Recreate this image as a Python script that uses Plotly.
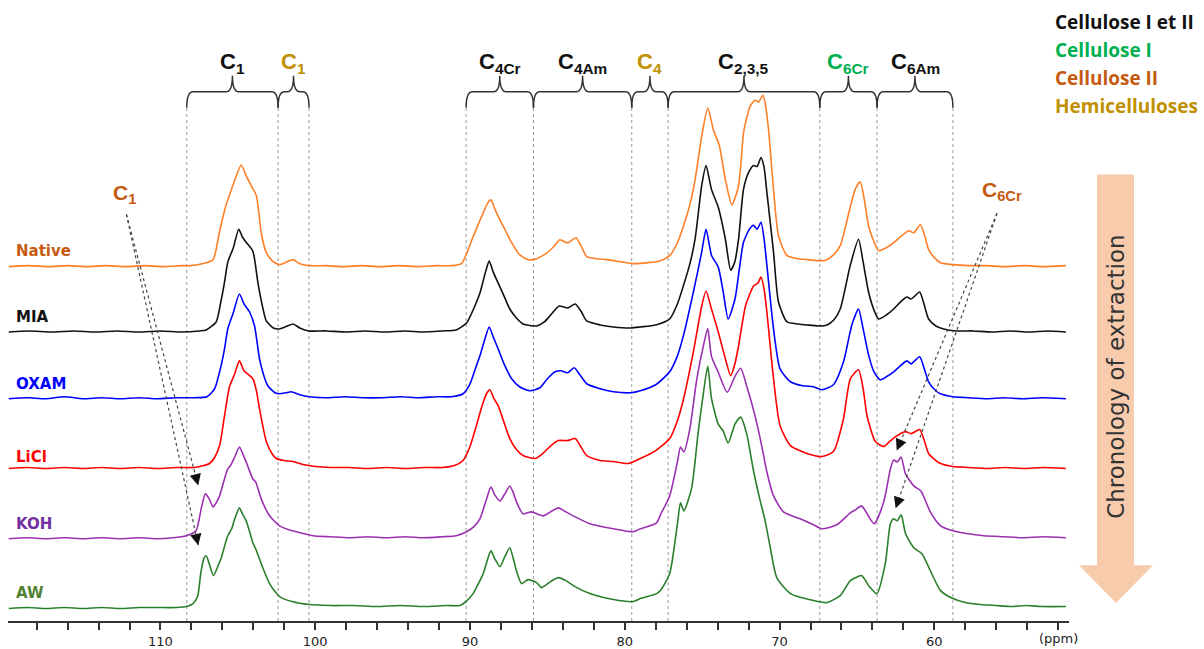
import math
import plotly.graph_objects as go

# ---------------- data (ppm, intensity) ----------------
SAMPLES = ["Native", "MIA", "OXAM", "LiCl", "KOH", "AW"]
OFFSETS = [355.5, 290.0, 223.0, 153.0, 82.5, 12.5]
LINE_COLORS = ["#FF7F27", "#111111", "#0000FF", "#FF0000", "#9B30B0", "#2A7F2A"]
LABEL_COLORS = ["#C55A11", "#111111", "#0000FF", "#FF0000", "#7030A0", "#548235"]
LABEL_Y = [371, 305, 238, 165, 97, 28]

NATIVE = [(119.8,0),(118.5,1),(117.2,0),(116,1),(114.8,0),(113.5,1),(112.2,0),(111,1),(109.8,0),(108.6,1),(108.1,1),
          (107.3,3),(106.6,7),(106.2,34),(105.76,62),(105.6,69),(105.27,84),(104.78,102),(104.46,91),(104.13,81),(103.8,71),
          (103.49,34),(103.16,14),(102.73,5),(102.3,2),(101.8,5),(101.44,7),(101.0,3),(100.36,1),(99.3,1),(98.2,0),(97,1),
          (95.8,0),(94.6,1),(93.3,0),(92.2,1),(91.2,1),(90.55,3),(90.2,14),(89.8,30),(89.4,45),(89.15,54),(88.85,64),(88.65,67),
          (88.4,58),(88.07,47),(87.7,36),(87.31,24),(86.8,12),(86.24,7),(85.7,8),(85.1,13),(84.6,20),(84.2,27),(83.9,25),
          (83.65,24),(83.15,29),(82.8,20),(82.46,10),(81.8,8),(81.17,7),(80.3,5),(79.45,3),(78.5,4),(77.7,6),(77.1,11),
          (76.6,24),(76.2,41),(75.8,62),(75.46,87),(75.03,131),(74.64,159),(74.27,137),(73.9,122),(73.5,87),(73.08,62),
          (72.65,81),(72.33,134),(72.11,150),(71.9,161),(71.58,167),(71.36,165),(71.08,172),(70.93,164),(70.71,137),
          (70.39,77),(70.07,31),(69.52,11),(68.8,8),(68.23,7),(67.5,6),(66.94,7),(66.5,12),(66.08,21),(65.43,60),(65.1,78),
          (64.79,85),(64.5,65),(64.25,41),(63.9,25),(63.6,16),(63.1,19),(62.63,24),(62.1,31),(61.66,36),(61.33,34),(60.9,42),
          (60.6,30),(60.37,17),(60.0,9),(59.6,4),(58.8,2),(57.8,1),(56.6,1),(55.4,0),(54.2,1),(53,0),(51.5,1)]

MIA = [(119.8,0),(118.5,1),(117,0),(115.6,1),(114.2,0),(112.8,1),(111.4,0),(110,1),(108.6,0),(107.5,1),(107.04,2),
       (106.4,10),(106.1,30),(105.86,50),(105.65,70),(105.3,84),(104.94,103),(104.7,95),(104.46,90),(104.03,81),(103.7,49),
       (103.4,25),(103.16,11),(102.7,4),(102.3,3),(101.8,6),(101.44,8),(101.0,4),(100.4,1),(99.3,1),(98,0),(96.8,1),(95.5,0),
       (94.2,1),(93,0),(91.8,1),(90.9,2),(90.22,9),(89.8,22),(89.36,39),(89.0,60),(88.76,71),(88.5,60),(88.18,49),(87.8,36),
       (87.43,23),(87.0,14),(86.57,8),(85.7,6),(85.2,10),(84.84,16),(84.24,26),(83.7,24),(83.2,28),(82.8,20),(82.46,11),
       (81.6,7),(80.74,5),(79.6,4),(79.0,5),(78.0,7),(77.1,13),(76.6,28),(76.2,47),(75.8,68),(75.46,93),(75.03,147),
       (74.75,167),(74.4,143),(73.96,125),(73.5,93),(73.16,62),(72.9,70),(72.65,93),(72.33,143),(72.0,160),(71.68,167),
       (71.45,166),(71.2,175),(71.0,165),(70.82,140),(70.39,80),(70.07,30),(69.52,10),(68.8,8),(68.23,7),(67.5,6),(66.94,7),
       (66.5,12),(66.08,23),(65.43,67),(64.9,93),(64.6,70),(64.25,40),(63.9,22),(63.6,13),(63.1,17),(62.63,23),(62.2,30),
       (61.77,35),(61.5,33),(60.95,40),(60.65,27),(60.37,13),(59.9,6),(59.4,3),(58.6,1),(57.5,1),(56.3,0),(55.1,1),(53.9,0),
       (52.7,1),(51.5,0)]

OXAM = [(119.8,0),(118.6,1),(117.4,0),(116.2,2),(115,0),(113.8,1),(112.6,0),(111.4,1),(110.2,0),(109,1),(107.8,1),
        (107.0,2),(106.5,10),(106.1,32),(105.86,50),(105.65,70),(105.3,86),(104.9,105),(104.6,95),(104.24,87),(103.92,73),
        (103.6,40),(103.3,22),(103.06,13),(102.6,6),(102.3,5),(101.9,6),(101.55,7),(101.0,4),(100.36,2),(99.3,1),(98.1,2),
        (96.9,1),(95.7,1),(94.5,2),(93.3,1),(92.1,2),(91.2,2),(90.45,5),(90.0,15),(89.7,28),(89.36,43),(89.0,62),(88.76,72),
        (88.5,62),(88.18,50),(87.8,35),(87.31,20),(86.8,12),(86.13,8),(85.48,11),(85.0,20),(84.5,27),(84.1,28),(83.7,26),
        (83.27,31),(82.9,24),(82.46,15),(81.6,10),(80.74,7),(79.6,6),(79.0,8),(78.0,14),(77.1,27),(76.6,43),(76.2,64),
        (75.57,107),(75.03,147),(74.75,170),(74.4,144),(73.96,132),(73.64,107),(73.32,80),(72.88,100),(72.6,130),(72.33,157),
        (71.95,170),(71.68,174),(71.45,170),(71.2,177),(71.0,160),(70.82,134),(70.39,70),(69.97,30),(69.3,17),(68.5,13),
        (67.81,12),(67.27,9),(66.52,14),(65.87,37),(65.33,74),(64.9,90),(64.6,70),(64.25,44),(63.9,27),(63.5,19),(63.1,22),
        (62.63,27),(62.2,33),(61.77,38),(61.5,35),(60.95,42),(60.65,30),(60.37,17),(59.9,8),(59.6,5),(58.8,2),(57.8,1),
        (56.6,0),(55.5,1),(54.3,0),(53.1,1),(51.5,0)]

LICL = [(119.8,0),(118.6,1),(117.4,0),(116.2,1),(115,0),(113.8,1),(112.6,0),(111.4,1),(110.2,0),(109,1),(107.8,1),
        (107.2,3),(106.83,5),(106.5,11),(106.18,23),(105.86,53),(105.54,82),(105.2,95),(104.9,108),(104.6,98),(104.03,90),
        (103.8,78),(103.6,60),(103.16,27),(102.8,15),(102.52,10),(102.0,8),(101.44,7),(100.8,4),(100.0,2),(99,1),(97.8,1),
        (96.6,0),(95.4,1),(94.2,0),(93,1),(91.8,1),(91.0,3),(90.45,8),(90.0,22),(89.59,43),(89.2,64),(88.9,76),(88.72,79),
        (88.45,70),(88.18,63),(87.8,46),(87.43,30),(87.0,19),(86.57,13),(85.81,10),(85.3,15),(84.84,22),(84.3,28),(83.7,28),
        (83.2,30),(82.85,22),(82.46,13),(81.6,8),(80.74,7),(79.8,5),(79.0,10),(78.0,18),(77.1,30),(76.6,48),(76.2,70),
        (75.57,117),(75.03,163),(74.75,178),(74.4,160),(73.96,137),(73.5,110),(73.16,93),(72.9,104),(72.65,123),(72.2,163),
        (71.68,183),(71.4,186),(71.2,192),(71.0,180),(70.82,157),(70.39,90),(69.97,43),(69.3,23),(68.23,15),(67.27,12),
        (66.52,17),(65.87,50),(65.43,90),(64.9,99),(64.6,80),(64.35,53),(63.81,27),(63.27,22),(62.9,27),(62.5,32),(61.86,37),
        (61.5,35),(60.95,39),(60.65,28),(60.37,15),(59.9,8),(59.6,5),(58.8,2),(57.8,1),(56.6,0),(55.4,1),(54.2,0),(53,1),
        (51.5,0)]

KOH = [(119.8,0),(118.6,1),(117.4,0),(116.2,1),(115,0),(113.8,1),(112.6,0),(111.4,1),(110.2,0),(109.2,1),(108.34,3),
       (107.7,8),(107.37,30),(107.1,45),(106.85,40),(106.6,32),(106.4,36),(106.18,43),(105.9,58),(105.65,70),(105.45,74),
       (105.2,82),(104.9,92),(104.7,86),(104.46,77),(104.03,60),(103.85,57),(103.49,40),(102.95,23),(102.3,13),(101.7,9),
       (101.23,7),(100.15,3),(99,2),(97.8,1),(96.6,2),(95.4,1),(94.2,2),(93,1),(91.8,2),(90.9,3),(90.22,7),(89.7,13),
       (89.36,20),(88.93,40),(88.65,52),(88.4,44),(88.07,38),(87.75,45),(87.43,53),(87.2,46),(87.0,37),(86.57,25),(86.03,27),
       (85.28,23),(84.8,27),(84.3,31),(83.8,27),(83.33,23),(82.25,15),(80.74,10),(79.45,7),(79.0,10),(77.94,16),(77.7,24),
       (77.1,43),(76.6,77),(76.4,92),(76.18,87),(75.8,110),(75.35,160),(74.93,193),(74.64,211),(74.4,183),(73.96,167),
       (73.38,147),(72.88,163),(72.51,171),(72.12,153),(71.58,123),(71.15,93),(70.82,67),(70.39,43),(69.75,27),(68.67,20),
       (67.81,14),(67.27,10),(66.3,14),(65.43,26),(65.1,29),(64.7,33),(63.89,15),(63.27,37),(62.84,70),(62.63,79),(62.4,77),
       (62.15,82),(61.86,65),(61.33,53),(60.87,48),(60.26,27),(59.6,13),(58.54,7),(56.8,3),(55.5,2),(54.3,1),(53,2),(51.5,1)]

AW = [(119.8,0),(118.6,1),(117.4,0),(116.2,1),(115,0),(113.8,1),(112.6,0),(111.4,1),(110.2,1),(109,1),(108.3,2),
      (107.9,5),(107.6,12),(107.4,35),(107.2,50),(107.04,53),(106.85,45),(106.57,33),(106.3,42),(106.07,51),(105.85,63),
      (105.65,73),(105.4,80),(105.2,90),(104.9,101),(104.7,95),(104.46,88),(104.2,75),(104.03,66),(103.8,58),(103.49,45),
      (102.95,25),(102.6,17),(102.3,12),(101.5,7),(100.4,4),(99,3),(97.5,3),(96,2),(94.5,3),(93,2),(91.5,3),(90.66,3),
      (90.2,8),(89.8,15),(89.15,35),(88.85,50),(88.65,58),(88.4,50),(88.07,42),(87.75,52),(87.43,61),(87.2,50),(87.0,38),
      (86.67,25),(86.24,29),(85.7,26),(85.38,21),(84.8,27),(84.3,31),(83.8,28),(83.33,23),(82.25,15),(80.74,9),(79.45,7),
      (79.0,10),(77.94,15),(77.7,18),(77.1,35),(76.6,85),(76.4,106),(76.18,98),(75.68,121),(75.25,178),(74.93,215),
      (74.64,243),(74.4,211),(73.96,185),(73.64,178),(73.32,166),(72.88,185),(72.51,192),(72.12,175),(71.68,138),
      (71.25,108),(70.93,88),(70.6,61),(70.18,31),(69.3,15),(67.81,8),(66.94,6),(66.08,13),(65.43,28),(64.95,32),(64.68,33),
      (64.2,22),(63.71,15),(63.17,45),(62.84,85),(62.63,90),(62.4,88),(62.14,94),(61.86,75),(61.33,61),(60.8,55),(60.26,38),
      (59.6,18),(58.8,10),(58,6),(57,4),(56,3),(55,2),(54,3),(53,2),(51.5,2)]

SPECTRA = [NATIVE, MIA, OXAM, LICL, KOH, AW]

# dotted guide lines (ppm)
GUIDES = [108.3, 102.4, 100.4, 90.25, 85.9, 79.55, 77.2, 67.4, 63.7, 58.8]

# braces: left ppm, right ppm, label, colour
BRACE_LEFT = [108.3, 102.4, 90.25, 85.9, 79.55, 77.2, 67.4, 63.7]
BRACE_RIGHT = [102.4, 100.4, 85.9, 79.55, 77.2, 67.4, 63.7, 58.8]
BRACE_LABEL = ["C<sub>1</sub>", "C<sub>1</sub>", "C<sub>4Cr</sub>", "C<sub>4Am</sub>", "C<sub>4</sub>",
               "C<sub>2,3,5</sub>", "C<sub>6Cr</sub>", "C<sub>6Am</sub>"]
BRACE_COLOR = ["#111111", "#BF9000", "#111111", "#111111", "#BF9000", "#111111", "#00B050", "#111111"]

LEGEND_TEXT = ["Cellulose I et II", "Cellulose I", "Cellulose II", "Hemicelluloses"]
LEGEND_COLOR = ["#111111", "#00B050", "#C55A11", "#BF9000"]

# annotation arrows: label pos (ppm, y), start, targets
C1_LABEL_POS = (112.3, 428)
C1_START = (112.2, 408)
C1_TARGETS = [(107.56, 136), (107.56, 76)]
C6_LABEL_POS = (55.63, 431)
C6_START = (55.95, 409)
C6_TARGETS = [(62.43, 171), (62.50, 113)]

# ---------------- figure ----------------
X_RANGE = [119.85, 51.3]
PX_PER_PPM = 1061 / (X_RANGE[0] - X_RANGE[1])
PLOT_H = 623

fig = go.Figure()

for name, data, off, col in zip(SAMPLES, SPECTRA, OFFSETS, LINE_COLORS):
    xs = [p for p, _ in data]
    ys = [off + h for _, h in data]
    fig.add_trace(go.Scatter(x=xs, y=ys, mode="lines", name=name,
                             line=dict(color=col, width=1.6, shape="spline", smoothing=0.6),
                             hoverinfo="skip"))

shapes = []
annotations = []

for g in GUIDES:
    shapes.append(dict(type="line", xref="x", yref="y", x0=g, x1=g, y0=0, y1=PLOT_H - 108,
                       line=dict(color="#9a9a9a", width=1, dash="dot"), layer="below"))

yb, yl, yt = PLOT_H - 108, PLOT_H - 92, PLOT_H - 76
r = 0.4
for x1, x2, lab, col in zip(BRACE_LEFT, BRACE_RIGHT, BRACE_LABEL, BRACE_COLOR):
    xc = (x1 + x2) / 2
    path = (f"M {x1},{yb} Q {x1},{yl} {x1 - r},{yl} L {xc + r},{yl} Q {xc},{yl} {xc},{yt} "
            f"Q {xc},{yl} {xc - r},{yl} L {x2 + r},{yl} Q {x2},{yl} {x2},{yb}")
    shapes.append(dict(type="path", xref="x", yref="y", path=path,
                       line=dict(color="#333333", width=1.5)))
    annotations.append(dict(x=xc, y=PLOT_H - 63, xref="x", yref="y", text=f"<b>{lab}</b>",
                            showarrow=False, xanchor="center", yanchor="middle",
                            font=dict(family="Liberation Sans", size=22, color=col)))

for name, ly, col in zip(SAMPLES, LABEL_Y, LABEL_COLORS):
    annotations.append(dict(x=119.45, y=ly, xref="x", yref="y", text=f"<b>{name}</b>",
                            showarrow=False, xanchor="left", yanchor="middle",
                            font=dict(family="DejaVu Sans", size=15, color=col)))

def arrows(start, targets):
    for tx, ty in targets:
        shapes.append(dict(type="line", xref="x", yref="y", x0=start[0], y0=start[1], x1=tx, y1=ty,
                           line=dict(color="#444444", width=1.2, dash="dot")))
        dxp = -(tx - start[0]) * PX_PER_PPM
        dyp = (ty - start[1])
        L = math.hypot(dxp, dyp)
        annotations.append(dict(x=tx, y=ty, xref="x", yref="y", text="", showarrow=True,
                                arrowhead=2, arrowsize=1.9, arrowwidth=1.2, arrowcolor="#111111",
                                ax=-dxp / L * 12, ay=dyp / L * 12, standoff=0))

arrows(C1_START, C1_TARGETS)
arrows(C6_START, C6_TARGETS)
annotations.append(dict(x=C1_LABEL_POS[0], y=C1_LABEL_POS[1], xref="x", yref="y",
                        text="<b>C<sub>1</sub></b>", showarrow=False,
                        font=dict(family="Liberation Sans", size=21, color="#C55A11")))
annotations.append(dict(x=C6_LABEL_POS[0], y=C6_LABEL_POS[1], xref="x", yref="y",
                        text="<b>C<sub>6Cr</sub></b>", showarrow=False,
                        font=dict(family="Liberation Sans", size=21, color="#C55A11")))

def px2paper(px, py):
    return (px - 8) / 1061, (PLOT_H - py) / PLOT_H

for i, (t, c) in enumerate(zip(LEGEND_TEXT, LEGEND_COLOR)):
    xp, yp = px2paper(1053, 22 + i * 28)
    annotations.append(dict(x=xp, y=yp, xref="paper", yref="paper", text=f"<b>{t}</b>",
                            showarrow=False, xanchor="left", yanchor="middle",
                            font=dict(family="Open Sans", size=19, color=c)))

# big chronology arrow
pts = [(1097, 175), (1134, 175), (1134, 567), (1153, 567), (1116, 605), (1079, 567), (1097, 567)]
pp = [px2paper(a, b) for a, b in pts]
path = "M " + " L ".join(f"{a},{b}" for a, b in pp) + " Z"
shapes.append(dict(type="path", xref="paper", yref="paper", path=path,
                   fillcolor="#F8CBAD", line=dict(width=0)))
xp, yp = px2paper(1116, 378)
annotations.append(dict(x=xp, y=yp, xref="paper", yref="paper", text="Chronology of extraction",
                        showarrow=False, textangle=-90, xanchor="center", yanchor="middle",
                        font=dict(family="DejaVu Sans", size=23, color="#333333")))

xp, yp = px2paper(1058, 641)
annotations.append(dict(x=xp, y=yp, xref="paper", yref="paper", text="(ppm)", showarrow=False,
                        xanchor="center", yanchor="middle",
                        font=dict(family="DejaVu Sans", size=13, color="#222222")))

fig.update_layout(
    width=1204, height=649,
    margin=dict(l=8, r=135, t=0, b=26),
    paper_bgcolor="white", plot_bgcolor="white",
    showlegend=False,
    shapes=shapes, annotations=annotations,
    xaxis=dict(range=X_RANGE, tickvals=[110, 100, 90, 80, 70, 60], ticks="outside", ticklen=7,
               tickwidth=1.5, tickcolor="#333333", showline=True, linecolor="#333333", linewidth=2,
               showgrid=False, zeroline=False,
               tickfont=dict(family="DejaVu Sans", size=13, color="#222222"),
               minor=dict(dtick=2, tick0=0, ticks="outside", ticklen=7, tickwidth=1.5,
                          tickcolor="#333333", showgrid=False)),
    yaxis=dict(range=[0, PLOT_H], visible=False, fixedrange=True),
)

fig.write_html("out.html")
